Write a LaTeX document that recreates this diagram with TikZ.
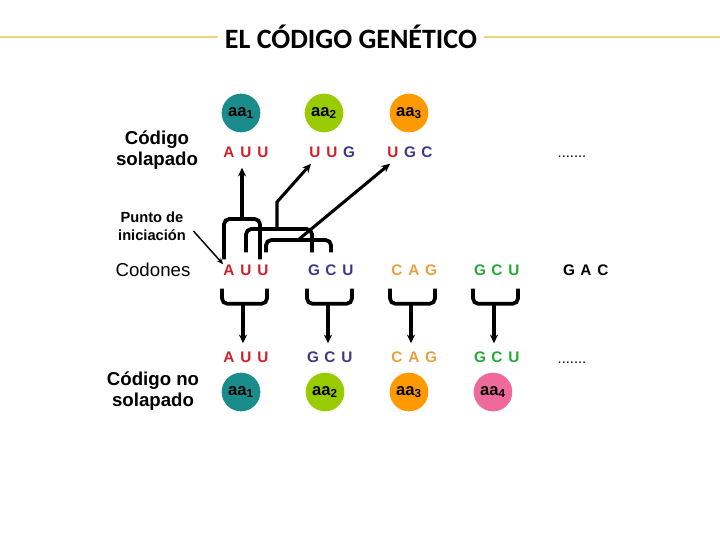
\documentclass[tikz,border=0pt]{standalone}
\usepackage{fontspec}
\setmainfont{Liberation Sans}
\newfontfamily\titlefont{Carlito}
\usetikzlibrary{arrows.meta,calc}

\definecolor{rnared}{RGB}{210,30,40}
\definecolor{rnanavy}{RGB}{58,58,138}
\definecolor{rnaorange}{RGB}{232,160,64}
\definecolor{rnagreen}{RGB}{34,170,51}
\definecolor{aateal}{RGB}{26,140,140}
\definecolor{aalime}{RGB}{153,204,0}
\definecolor{aaorange}{RGB}{255,153,0}
\definecolor{aapink}{RGB}{238,106,154}
\definecolor{titleline}{RGB}{232,214,130}

\newcommand{\rnaR}{\color{rnared}}
\newcommand{\rnaB}{\color{rnanavy}}
\newcommand{\rnaO}{\color{rnaorange}}
\newcommand{\rnaG}{\color{rnagreen}}

% three letters of a codon: name-1, name-2, name-3
\newcommand{\codon}[6]{%
  \node[letter] (#1-1) at (#2-17,#3) {#4};
  \node[letter] (#1-2) at (#2,#3) {#5};
  \node[letter] (#1-3) at (#2+17,#3) {#6};
}

\begin{document}
\begin{tikzpicture}[x=0.75pt, y=-0.75pt,
  letter/.style={font=\bfseries\fontsize{11.5}{13}\selectfont, inner sep=0pt, text height=8.2pt, text depth=0pt},
  label/.style={font=\bfseries\fontsize{14}{16}\selectfont, align=center, inner sep=1pt},
  aa/.style={circle, minimum size=29pt, inner sep=0pt, font=\bfseries\fontsize{12.5}{14}\selectfont},
  dots/.style={font=\fontsize{11}{13}\selectfont, anchor=base, inner sep=0pt},
  brk/.style={line width=2.8pt, rounded corners=4pt},
  arr/.style={line width=2.3pt, -{Stealth[length=6.5pt,width=6pt]}},
  parr/.style={line width=1.1pt, -{Stealth[length=5pt,width=4pt]}},
  tline/.style={titleline, line width=0.8pt}]
  \useasboundingbox (0,0) rectangle (720,540);

  % title
  \node[font=\titlefont\bfseries\fontsize{21}{24}\selectfont, inner sep=5pt] (title) at (351,37) {EL CÓDIGO GENÉTICO};
  \draw[tline] (0,37) -- (title.west);
  \draw[tline] (title.east) -- (720,37);

  % labels on the left
  \node[label] (solap) at (157,150) {Código\\solapado};
  \node[font=\bfseries\fontsize{11}{13.5}\selectfont, align=center, inner sep=1pt] (pi) at (152,226) {Punto de\\iniciación};
  \node[font=\fontsize{14}{16}\selectfont, inner sep=1pt] (cod) at (153,270) {Codones};
  \node[label] (nosolap) at (153,391) {Código no\\solapado};

  % overlapping code
  \node[aa, fill=aateal] (t1) at (241,113) {aa\textsubscript{1}};
  \node[aa, fill=aalime] (t2) at (324,113) {aa\textsubscript{2}};
  \node[aa, fill=aaorange] (t3) at (409,113) {aa\textsubscript{3}};
  \codon{s1}{246}{152}{\rnaR A}{\rnaR U}{\rnaR U}
  \codon{s2}{332}{152}{\rnaR U}{\rnaR U}{\rnaB G}
  \codon{s3}{410}{152}{\rnaR U}{\rnaB G}{\rnaB C}
  \node[dots] (d1) at (572,157) {.......};

  % codons
  \codon{c1}{246}{270}{\rnaR A}{\rnaR U}{\rnaR U}
  \codon{c2}{331}{270}{\rnaB G}{\rnaB C}{\rnaB U}
  \codon{c3}{414}{270}{\rnaO C}{\rnaO A}{\rnaO G}
  \codon{c4}{497}{270}{\rnaG G}{\rnaG C}{\rnaG U}
  \codon{c5}{586}{270}{G}{A}{C}
  \draw[parr] ([shift={(6,5)}]pi.east) -- (c1-1.north west);

  % brackets to the overlapping reading
  \coordinate (k1) at (242,219);
  \coordinate (k2) at (277,229);
  \coordinate (k3) at (298,240);
  \draw[brk] ($(c1-1.north)+(-5,-5)$) |- (k1) -| ($(c1-3.north)+(-3,-5)$);
  \draw[brk] ($(c1-2.north)+(0,-12)$) |- (k2) -| ($(c2-1.north)+(-2,-12)$);
  \draw[brk] ($(c1-3.north)+(3,-12)$) |- (k3) -| ($(c2-2.north)+(0,-12)$);
  \draw[arr] (k1) -- ($(k1 |- s1-2.south)+(0,10)$);
  \draw[arr] (k2) -- ++(0,-27) -- ($(s2-1.south)+(-4,6)$);
  \draw[arr] (k3) -- ($(s3-1.south)+(-3,6)$);

  % non overlapping code
  \codon{n1}{246}{357}{\rnaR A}{\rnaR U}{\rnaR U}
  \codon{n2}{330}{357}{\rnaB G}{\rnaB C}{\rnaB U}
  \codon{n3}{414}{357}{\rnaO C}{\rnaO A}{\rnaO G}
  \codon{n4}{497}{357}{\rnaG G}{\rnaG C}{\rnaG U}
  \node[dots] (d2) at (572,363) {.......};
  \foreach \i in {1,...,4}{
    \coordinate (b\i) at ($(c\i-2.south)+(-3,28)$);
    \draw[brk] ($(c\i-1.south)+(-7,13)$) |- (b\i) -| ($(c\i-3.south)+(4,13)$);
    \draw[arr] (b\i) -- ($(b\i |- n\i-2.north)+(0,-8)$);
  }
  \node[aa, fill=aateal] (u1) at (241,392) {aa\textsubscript{1}};
  \node[aa, fill=aalime] (u2) at (325,392) {aa\textsubscript{2}};
  \node[aa, fill=aaorange] (u3) at (409,392) {aa\textsubscript{3}};
  \node[aa, fill=aapink] (u4) at (493,392) {aa\textsubscript{4}};
\end{tikzpicture}
\end{document}
